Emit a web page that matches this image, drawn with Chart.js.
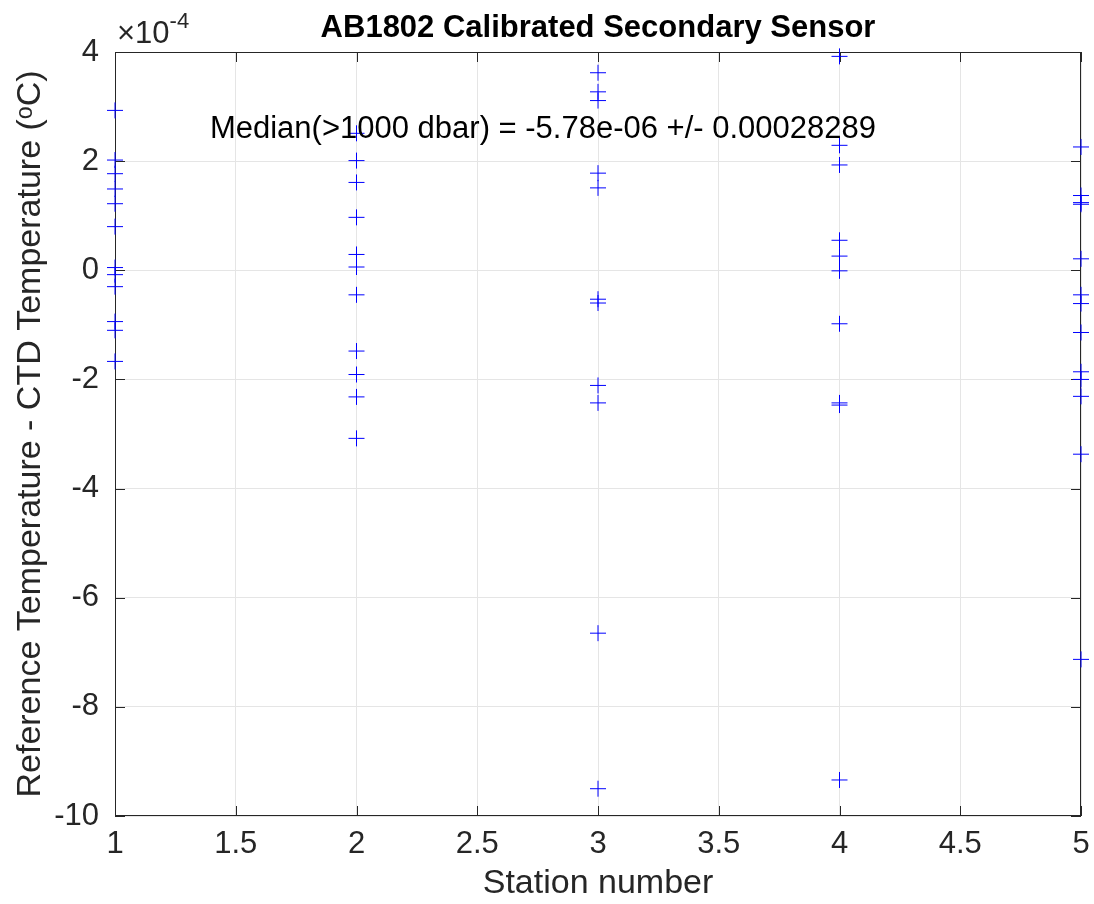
<!DOCTYPE html>
<html>
<head>
<meta charset="utf-8">
<script src="https://cdn.jsdelivr.net/npm/chart.js@4/dist/chart.umd.min.js"></script>
<style>
  html, body { margin: 0; padding: 0; background: #fff; }
  #wrap { width: 1094px; height: 904px; }
</style>
</head>
<body>
<div id="wrap"><canvas id="chartSensor" width="1094" height="904"></canvas></div>
<script>
// values are in units of 1e-4 degC (axis shows x10^-4)
var station1 = [2.93, 2.02, 1.77, 1.49, 1.22, 0.80, 0.05, -0.08, -0.30, -0.94, -1.10, -1.67];
var station2 = [2.51, 2.01, 1.61, 0.97, 0.29, 0.06, -0.45, -1.48, -1.91, -2.32, -3.08];
var station3 = [3.62, 3.27, 3.11, 1.78, 1.51, -0.53, -0.60, -2.11, -2.43, -6.65, -9.50];
var station4 = [3.92, 2.29, 1.93, 0.55, 0.26, -0.01, -0.98, -2.43, -2.47, -9.34];
var station5 = [2.26, 1.37, 1.24, 1.21, 0.21, -0.45, -0.61, -1.14, -1.86, -2.00, -2.31, -3.37, -7.13];
var stations = [1, 2, 3, 4, 5];
var xTicks = [1, 1.5, 2, 2.5, 3, 3.5, 4, 4.5, 5];
var yTicks = [-10, -8, -6, -4, -2, 0, 2, 4];
var medianText = 'Median(>1000 dbar) = -5.78e-06 +/- 0.00028289';

var allCols = [station1, station2, station3, station4, station5];
var points = [];
allCols.forEach(function (col, i) {
  col.forEach(function (v) { points.push({x: stations[i], y: v}); });
});

var axisColor = '#262626';
var fontName = '"Liberation Sans", Arial, Helvetica, sans-serif';

// MATLAB style box, inward ticks, exponent and text annotation
var matlabBox = {
  id: 'matlabBox',
  beforeDatasetsDraw: function (chart) {
    var ctx = chart.ctx, a = chart.chartArea;
    var xs = chart.scales.x, ys = chart.scales.y;
    var tl = 10;
    ctx.save();
    ctx.strokeStyle = axisColor;
    ctx.lineWidth = 1;
    ctx.strokeRect(a.left + 0.5, a.top + 0.5, a.right - a.left - 1, a.bottom - a.top - 1);
    ctx.beginPath();
    xTicks.forEach(function (t) {
      var px = Math.round(xs.getPixelForValue(t)) + 0.5;
      ctx.moveTo(px, a.bottom); ctx.lineTo(px, a.bottom - tl);
      ctx.moveTo(px, a.top); ctx.lineTo(px, a.top + tl);
    });
    yTicks.forEach(function (t) {
      var py = Math.round(ys.getPixelForValue(t)) + 0.5;
      ctx.moveTo(a.left, py); ctx.lineTo(a.left + tl, py);
      ctx.moveTo(a.right, py); ctx.lineTo(a.right - tl, py);
    });
    ctx.stroke();
    ctx.restore();
  },
  afterDatasetsDraw: function (chart) {
    var ctx = chart.ctx, a = chart.chartArea;
    var xs = chart.scales.x, ys = chart.scales.y;
    ctx.save();
    // exponent label
    ctx.fillStyle = axisColor;
    ctx.textBaseline = 'alphabetic';
    ctx.textAlign = 'left';
    ctx.font = '31px ' + fontName;
    ctx.fillText('\u00d710', a.left + 2, a.top - 9);
    var w = ctx.measureText('\u00d710').width;
    ctx.font = '22px ' + fontName;
    ctx.fillText('-4', a.left + 2 + w, a.top - 24);
    // median annotation
    ctx.fillStyle = '#000';
    ctx.font = '31px ' + fontName;
    ctx.textBaseline = 'middle';
    ctx.fillText(medianText, xs.getPixelForValue(1.393), ys.getPixelForValue(2.58));
    ctx.restore();
  }
};

new Chart(document.getElementById('chartSensor').getContext('2d'), {
  type: 'scatter',
  data: {
    datasets: [{
      label: 'Reference - CTD',
      data: points,
      pointStyle: 'cross',
      pointRadius: 8,
      pointHoverRadius: 8,
      pointBorderWidth: 1,
      borderColor: '#0000ff',
      backgroundColor: '#0000ff',
      clip: false
    }]
  },
  options: {
    responsive: false,
    animation: false,
    layout: { padding: { left: 0, right: 13, top: 0, bottom: 0 } },
    plugins: {
      legend: { display: false },
      tooltip: { enabled: false },
      title: {
        display: true,
        text: 'AB1802 Calibrated Secondary Sensor',
        color: '#000',
        fullSize: false,
        font: { family: fontName, size: 31, weight: 'bold' },
        padding: { top: 10, bottom: 4.8 }
      }
    },
    scales: {
      x: {
        type: 'linear',
        min: 1, max: 5,
        afterFit: function (s) { s.height = 88; s.paddingLeft = 0; s.paddingRight = 0; },
        afterBuildTicks: function (s) { s.ticks = xTicks.map(function (v) { return {value: v}; }); },
        grid: { color: '#e5e5e5', drawTicks: false },
        border: { display: false },
        ticks: {
          color: axisColor, padding: 10, font: { family: fontName, size: 31 }, maxRotation: 0,
          callback: function (v) { return String(v); }
        },
        title: {
          display: true, text: 'Station number', color: axisColor,
          font: { family: fontName, size: 34 }, padding: { top: 0, bottom: 0 }
        }
      },
      y: {
        type: 'linear',
        min: -10, max: 4,
        afterFit: function (s) { s.width = 115; s.paddingTop = 0; s.paddingBottom = 0; },
        afterBuildTicks: function (s) { s.ticks = yTicks.map(function (v) { return {value: v}; }); },
        grid: { color: '#e5e5e5', drawTicks: false },
        border: { display: false },
        ticks: {
          color: axisColor, padding: 16, font: { family: fontName, size: 31 },
          callback: function (v) { return String(v); }
        },
        title: {
          display: true, text: 'Reference Temperature - CTD Temperature (\u1d52C)', color: axisColor,
          font: { family: fontName, size: 34 }, padding: { top: 10, bottom: 0 }
        }
      }
    }
  },
  plugins: [matlabBox]
});
</script>
</body>
</html>
